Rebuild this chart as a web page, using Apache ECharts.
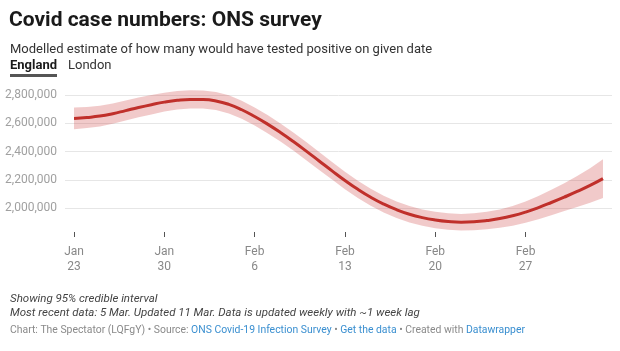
<!DOCTYPE html>
<html>
<head>
<meta charset="utf-8">
<script src="https://cdn.jsdelivr.net/npm/echarts@6/dist/echarts.min.js"></script>
<style>
  html, body { margin: 0; padding: 0; background: #fff; }
  #main { width: 620px; height: 351px; }
</style>
</head>
<body>
<div id="main"></div>
<script>
// days after 23 Jan (0 = Jan 23, 41 = Mar 5)
const days = [0,1,2,3,4,5,6,7,8,9,10,11,12,13,14,15,16,17,18,19,20,
  21,22,23,24,25,26,27,28,29,30,31,32,33,34,35,36,37,38,39,40,41];

// modelled estimate (thousands)
const estimate = [2634,2641,2651,2668,2690,2712,2732,2750,2763,2769,2768,
  2758,2734,2696,2648,2594,2535,2471,2403,2333,2263,2195,2132,2076,2028,
  1988,1956,1932,1915,1904,1899,1902,1911,1925,1945,1971,2003,2039,2077,
  2117,2160,2208];

// 95% credible interval (thousands)
const upper = [2711,2716,2724,2740,2761,2782,2801,2817,2829,2834,2832,
  2822,2798,2760,2712,2658,2599,2535,2467,2396,2325,2257,2193,2136,2087,
  2046,2014,1990,1973,1962,1958,1962,1973,1990,2015,2046,2085,2129,2176,
  2227,2282,2345];
const lower = [2557,2566,2578,2596,2619,2642,2663,2683,2697,2704,2704,
  2694,2670,2632,2584,2530,2471,2407,2339,2270,2201,2133,2071,2016,1969,
  1930,1898,1874,1857,1846,1840,1842,1849,1860,1875,1896,1921,1949,1978,
  2007,2038,2071];

const xTicks = [0, 7, 14, 21, 28, 35];
const xTickLabels = ['Jan\n23', 'Jan\n30', 'Feb\n6', 'Feb\n13', 'Feb\n20', 'Feb\n27'];
const yTicks = [2000000, 2200000, 2400000, 2600000, 2800000];

const chart = echarts.init(document.getElementById('main'));
const font = 'Roboto, "Noto Sans", sans-serif';

const lineData = days.map((d, i) => [d, estimate[i] * 1000]);

// credible interval drawn as one polygon: upper edge forward, lower edge back
function renderBand(params, api) {
  const pts = [];
  for (let i = 0; i < days.length; i++) pts.push(api.coord([days[i], upper[i] * 1000]));
  for (let i = days.length - 1; i >= 0; i--) pts.push(api.coord([days[i], lower[i] * 1000]));
  return {
    type: 'polygon',
    shape: { points: pts },
    style: { fill: 'rgba(205, 60, 60, 0.27)' },
    silent: true
  };
}

const option = {
  animation: false,
  textStyle: { fontFamily: font },
  grid: { left: 65, right: 8, top: 88, bottom: 119 },
  xAxis: {
    type: 'value',
    min: -0.7,
    max: 41.7,
    axisLine: { show: false },
    splitLine: { show: false },
    axisTick: { show: true, length: 5, customValues: xTicks, lineStyle: { color: '#555', width: 1 } },
    axisLabel: {
      customValues: xTicks,
      margin: 12,
      color: '#888',
      fontSize: 12,
      lineHeight: 15,
      formatter: v => xTickLabels[xTicks.indexOf(v)] || ''
    }
  },
  yAxis: {
    type: 'value',
    min: 1830000,
    max: 2850000,
    axisLine: { show: false },
    axisTick: { show: false, customValues: yTicks },
    splitLine: { show: true, lineStyle: { color: '#e6e6e6', width: 1 } },
    axisLabel: {
      customValues: yTicks,
      margin: 8,
      color: '#a0a0a0',
      fontSize: 12,
      formatter: v => v.toLocaleString('en-GB')
    }
  },
  series: [
    {
      type: 'custom',
      renderItem: renderBand,
      data: [[days[0], estimate[0] * 1000]],
      z: 2
    },
    {
      type: 'line',
      data: lineData,
      smooth: true,
      symbol: 'none',
      lineStyle: { color: '#c0302b', width: 3 },
      z: 5
    }
  ],
  graphic: [
    { type: 'text', left: 9, top: 10, style: { text: 'Covid case numbers: ONS survey', font: 'bold 21px ' + font, fill: '#1a1a1a' } },
    { type: 'text', left: 10, top: 43, style: { text: 'Modelled estimate of how many would have tested positive on given date', font: '13px ' + font, fill: '#333' } },
    { type: 'text', left: 10, top: 59, style: { text: 'England', font: 'bold 13px ' + font, fill: '#1a1a1a' } },
    { type: 'rect', left: 10, top: 74, shape: { width: 47, height: 3 }, style: { fill: '#555' } },
    { type: 'text', left: 68, top: 59, style: { text: 'London', font: '13px ' + font, fill: '#333' } },
    { type: 'text', left: 10, top: 293, style: { text: 'Showing 95% credible interval', font: 'italic 11.5px ' + font, fill: '#444' } },
    { type: 'text', left: 10, top: 307, style: { text: 'Most recent data: 5 Mar. Updated 11 Mar. Data is updated weekly with ~1 week lag', font: 'italic 11.5px ' + font, fill: '#444' } },
    {
      type: 'text', left: 10, top: 325,
      style: {
        text: '{g|Chart: The Spectator (LQFgY) • Source: }{b|ONS Covid-19 Infection Survey}{g| • }{b|Get the data}{g| • Created with }{b|Datawrapper}',
        font: '10.4px ' + font,
        rich: {
          g: { fill: '#8a8a8a', font: '10.4px ' + font },
          b: { fill: '#3a8fd0', font: '10.4px ' + font }
        }
      }
    }
  ]
};

chart.setOption(option);
</script>
</body>
</html>
